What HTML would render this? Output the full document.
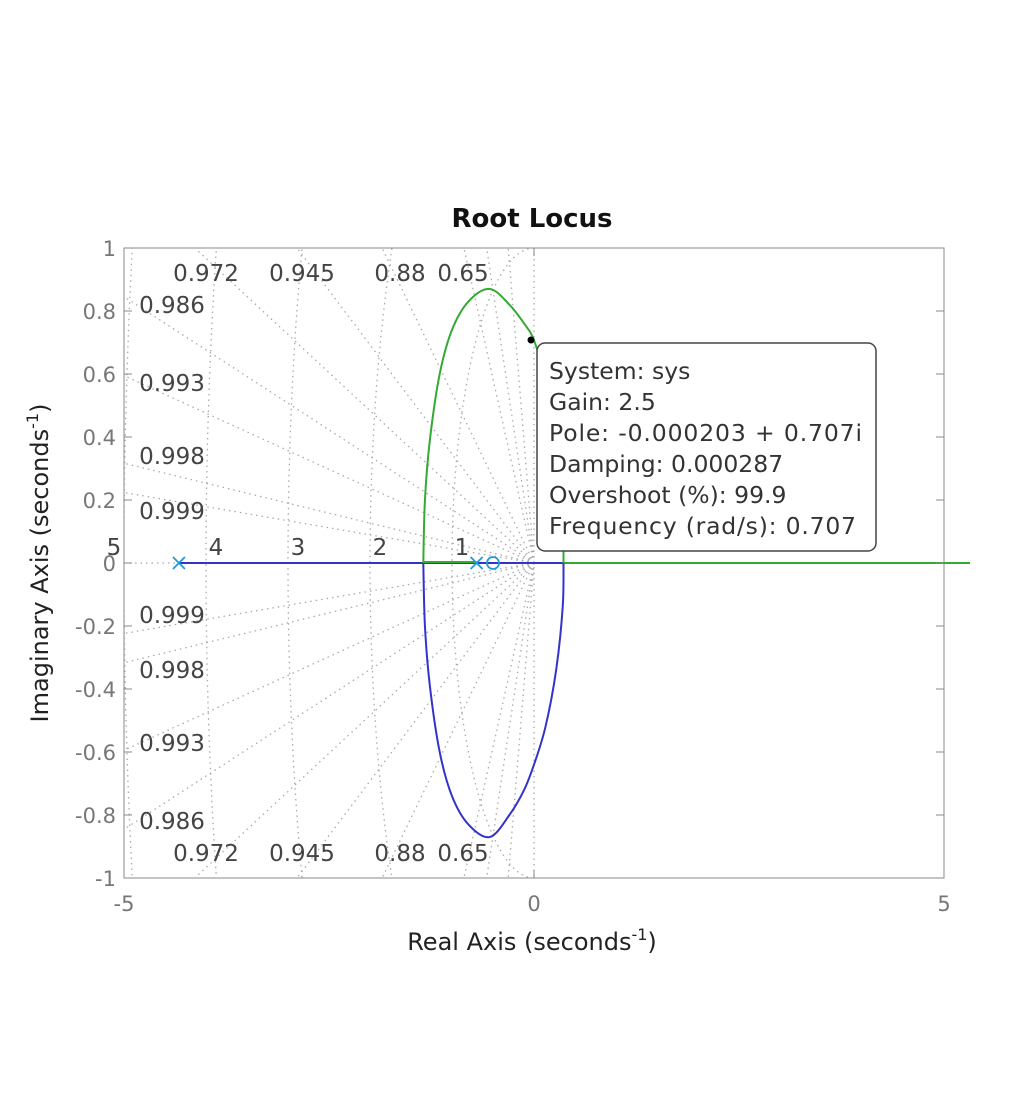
<!DOCTYPE html>
<html><head><meta charset="utf-8"><style>
html,body{margin:0;padding:0;background:#fff;overflow:hidden;width:1028px;height:1099px;}
svg{display:block;overflow:hidden;}
svg text{font-family:"DejaVu Sans","Liberation Sans",sans-serif;}
</style></head><body>
<svg width="1028" height="1099" viewBox="0 0 1028 1099" xmlns="http://www.w3.org/2000/svg">
<defs><clipPath id="pc"><rect x="124" y="248" width="820" height="630"/></clipPath></defs>
<rect x="124" y="248" width="820" height="630" fill="#fff" stroke="#888"/>
<g id="grid" clip-path="url(#pc)"></g>
<g id="marks"></g>
<g id="axes"></g>
<text x="532" y="227" text-anchor="middle" font-size="26" font-weight="bold" fill="#111">Root Locus</text>
<text x="532" y="950" text-anchor="middle" font-size="24" fill="#222">Real Axis (seconds<tspan dy="-10" font-size="16">-1</tspan><tspan dy="10">)</tspan></text>
<text transform="translate(48,563) rotate(-90)" text-anchor="middle" font-size="24" fill="#222">Imaginary Axis (seconds<tspan dy="-10" font-size="16">-1</tspan><tspan dy="10">)</tspan></text>
<g>
<rect x="537" y="343" width="339" height="208" rx="8" fill="#fff" stroke="#444" stroke-width="1.5"/>
<circle cx="531" cy="340" r="3.5" fill="#000"/>
<g font-size="23.5" fill="#333">
<text x="549" y="379">System: sys</text>
<text x="549" y="410">Gain: 2.5</text>
<text x="549" y="441" textLength="313">Pole: -0.000203 + 0.707i</text>
<text x="549" y="472">Damping: 0.000287</text>
<text x="549" y="503">Overshoot (%): 99.9</text>
<text x="549" y="534" textLength="307">Frequency (rad/s): 0.707</text>
</g></g>
</svg>
<script>
const xTicks=[-5,0,5];
const yTicks=[-1,-0.8,-0.6,-0.4,-0.2,0,0.2,0.4,0.6,0.8,1];
const dampValues=[0.3,0.5,0.65,0.88,0.945,0.972,0.986,0.993,0.998,0.999];
const dampLabels=["0.65","0.88","0.945","0.972","0.986","0.993","0.998","0.999"];
const freqValues=[1,2,3,4,5];
const poles=[-4.33,-0.7];
const zeros=[-0.5];
const loopRe=[-1.35,-1.33,-1.27,-1.15,-1.0,-0.8,-0.54,-0.3,-0.12,0,0.14,0.27,0.35,0.36];
const upperIm=[0,0.2,0.39,0.6,0.74,0.83,0.87,0.82,0.76,0.707,0.58,0.38,0.15,0];
const lowerIm=[0,-0.2,-0.39,-0.6,-0.74,-0.83,-0.87,-0.8,-0.72,-0.64,-0.52,-0.34,-0.14,0];
const NS="http://www.w3.org/2000/svg";
const X=v=>534+v*82, Y=v=>563-v*315;
function mk(p,t,a){const e=document.createElementNS(NS,t);for(const k in a)e.setAttribute(k,a[k]);p.appendChild(e);return e;}
function smooth(xs,ys){const P=xs.map((x,i)=>[X(x),Y(ys[i])]);let d=`M${P[0][0]},${P[0][1]}`;
 for(let i=0;i<P.length-1;i++){const p0=P[Math.max(0,i-1)],p1=P[i],p2=P[i+1],p3=P[Math.min(P.length-1,i+2)];
 d+=` C${p1[0]+(p2[0]-p0[0])/6},${p1[1]+(p2[1]-p0[1])/6} ${p2[0]-(p3[0]-p1[0])/6},${p2[1]-(p3[1]-p1[1])/6} ${p2[0]},${p2[1]}`;}return d;}
const grid=document.getElementById('grid'),marks=document.getElementById('marks'),axes=document.getElementById('axes');
const gs={stroke:"#aaa","stroke-width":1.3,"stroke-dasharray":"1.5 4",fill:"none"};
dampValues.forEach(z=>{const s=Math.sqrt(1-z*z);[1,-1].forEach(sg=>{
 const l=mk(grid,'line',Object.assign({x1:X(0),y1:Y(0),x2:X(-z*10),y2:Y(sg*s*10)},gs));
 });});
freqValues.forEach(r=>{const p=mk(grid,'path',Object.assign({d:`M${X(0)},${Y(r)} A${r*82},${r*315} 0 0 0 ${X(0)},${Y(-r)}`},gs));
 });
freqValues.forEach(r=>{const t=mk(axes,'text',{x:X(-r)+(r===5?-10:10),y:Y(0)-8,'text-anchor':'middle','font-size':23,fill:'#444'});t.textContent=r;
 });
mk(grid,'line',Object.assign({x1:X(0),y1:248,x2:X(0),y2:878},gs));
mk(grid,'line',Object.assign({x1:124,y1:Y(0),x2:X(0),y2:Y(0)},gs));
const topX=[463,400,302,206],leftY=[305,383,456,511];
dampLabels.forEach((s,i)=>{[1,-1].forEach(sg=>{let x,y;
 if(i<4){x=topX[i];y=sg>0?281:861;}else{x=172;y=sg>0?leftY[i-4]+8:2*563-leftY[i-4]+8;}
 const t=mk(axes,'text',{x:x,y:y,'text-anchor':'middle','font-size':23,fill:'#444'});t.textContent=s;
 });});
let e=mk(marks,'line',{x1:X(poles[0]),y1:Y(0),x2:X(loopRe[loopRe.length-1]),y2:Y(0),stroke:'#3333cc','stroke-width':2});

e=mk(marks,'line',{x1:X(loopRe[0]),y1:Y(0)-1,x2:X(poles[1]),y2:Y(0)-1,stroke:'#33aa33','stroke-width':2});

e=mk(marks,'line',{x1:X(loopRe[loopRe.length-1]),y1:Y(0),x2:970,y2:Y(0),stroke:'#33aa33','stroke-width':2});

e=mk(marks,'path',{d:smooth(loopRe,lowerIm),fill:'none',stroke:'#3333cc','stroke-width':2});

e=mk(marks,'path',{d:smooth(loopRe,upperIm),fill:'none',stroke:'#33aa33','stroke-width':2});

poles.forEach(p=>{const g=mk(marks,'path',{d:`M${X(p)-6},${Y(0)-6}L${X(p)+6},${Y(0)+6}M${X(p)-6},${Y(0)+6}L${X(p)+6},${Y(0)-6}`,stroke:'#2299dd','stroke-width':1.8});
 });
zeros.forEach(z=>{const c=mk(marks,'circle',{cx:X(z),cy:Y(0),r:6,fill:'none',stroke:'#2299dd','stroke-width':1.8});
 });
xTicks.forEach(v=>{mk(axes,'line',{x1:X(v),y1:878,x2:X(v),y2:870,stroke:'#888'});mk(axes,'line',{x1:X(v),y1:248,x2:X(v),y2:256,stroke:'#888'});
 const t=mk(axes,'text',{x:X(v),y:911,'text-anchor':'middle','font-size':21,fill:'#777'});t.textContent=v;
 });
yTicks.forEach(v=>{mk(axes,'line',{x1:124,y1:Y(v),x2:132,y2:Y(v),stroke:'#888'});mk(axes,'line',{x1:944,y1:Y(v),x2:936,y2:Y(v),stroke:'#888'});
 const t=mk(axes,'text',{x:116,y:Y(v)+8,'text-anchor':'end','font-size':21,fill:'#777'});t.textContent=v;
 });
</script>
</body></html>
